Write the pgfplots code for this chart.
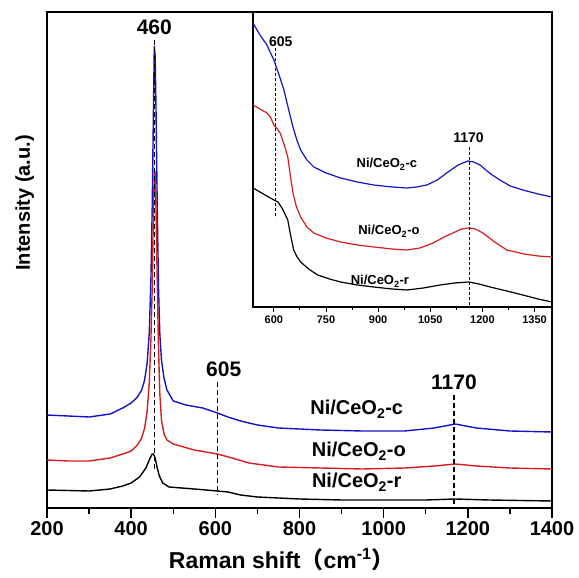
\documentclass[border=0pt]{standalone}
\usepackage{fontspec}
\setmainfont{Liberation Sans}
\newfontfamily\cjk{Noto Sans CJK SC}
\usepackage{pgfplots}
\pgfplotsset{compat=1.18}
\definecolor{cblue}{RGB}{20,20,200}
\definecolor{cred}{RGB}{215,30,30}
\begin{document}
\begin{tikzpicture}
\pgfplotsset{
  every axis/.append style={
    /pgf/number format/assume math mode=true,
    /pgf/number format/1000 sep={},
  },
  mydash/.style={dash pattern=on 5pt off 3pt},
}
\begin{axis}[
  name=main,
  at={(0pt,0pt)}, anchor=south west,
  scale only axis, width=505pt, height=496pt,
  xmin=200, xmax=1400, ymin=0, ymax=496,
  xtick={200,400,...,1400}, minor x tick num=1,
  ytick=\empty,
  xtick pos=bottom, tick align=outside,
  major tick length=10pt, minor tick length=6pt,
  every tick/.style={line width=1.4pt, black},
  axis line style={line width=1.6pt},
  ticklabel style={font=\fontsize{20}{20}\selectfont\bfseries},
  xlabel={Raman shift{\cjk （}cm\textsuperscript{-1}{\cjk ）}},
  xlabel style={font=\fontsize{23}{23}\selectfont\bfseries, at={(axis description cs:0.465,-0.105)}, anchor=center},
  ylabel={Intensity (a.u.)},
  ylabel style={font=\fontsize{20}{20}\selectfont\bfseries, at={(axis description cs:-0.044,0.615)}, anchor=center},
  clip=false,
]
\addplot[cblue, line width=1.4pt] coordinates {
(200,93)(250,92)(300,91)(350,94)(380,100)(400,105)(415,111)(425,118)(432,128)(438,145)(443,175)(447,230)(450,300)(453,400)(455,462)(457,452)(459,400)(462,300)(465,220)(468,175)(472,148)(478,130)(485,118)(500,107)(530,103)(570,100)(605,95)(630,91)(660,87)(700,83)(750,80)(850,78)(950,77)(1050,77)(1120,80)(1170,84)(1220,80)(1300,77)(1400,76)};
\addplot[cred, line width=1.4pt] coordinates {
(200,48)(250,47)(300,47)(350,50)(380,54)(400,57)(415,63)(425,70)(432,80)(438,97)(443,125)(447,170)(450,220)(453,300)(455,338)(457,335)(459,300)(462,225)(465,160)(468,115)(472,88)(478,74)(485,68)(500,64)(550,58)(605,54)(640,50)(680,45)(750,41)(850,40)(950,39)(1050,40)(1120,42)(1170,44)(1220,42)(1300,40)(1400,39)};
\addplot[black, line width=1.4pt] coordinates {
(200,18)(300,17)(350,19)(380,22)(400,25)(420,31)(435,40)(445,50)(450,54)(453,54)(457,50)(462,40)(467,32)(475,25)(490,21)(550,19)(605,17)(630,16)(660,13)(700,11)(800,9)(900,8)(1000,8)(1100,8)(1170,9)(1250,8)(1400,7)};
\addplot[black, mydash, line width=1.2pt] coordinates {(455,468)(455,38)};
\addplot[black, mydash, line width=1.2pt] coordinates {(605,126)(605,13)};
\addplot[black, mydash, line width=1.2pt] coordinates {(1167,113)(1167,0)};
\node[font=\fontsize{21}{21}\selectfont\bfseries, anchor=base] at (axis cs:455,473) {460};
\node[font=\fontsize{21}{21}\selectfont\bfseries, anchor=base] at (axis cs:620,131) {605};
\node[font=\fontsize{21}{21}\selectfont\bfseries, anchor=base] at (axis cs:1167,118) {1170};
\node[font=\fontsize{20}{20}\selectfont\bfseries, anchor=base] at (axis cs:936,93) {Ni/CeO\textsubscript{2}-c};
\node[font=\fontsize{20}{20}\selectfont\bfseries, anchor=base] at (axis cs:941,51) {Ni/CeO\textsubscript{2}-o};
\node[font=\fontsize{20}{20}\selectfont\bfseries, anchor=base] at (axis cs:936,20) {Ni/CeO\textsubscript{2}-r};
\end{axis}
\begin{axis}[
  at={(206pt,201pt)}, anchor=south west,
  scale only axis, width=299pt, height=295pt,
  xmin=540, xmax=1400, ymin=0, ymax=295,
  xtick={600,750,...,1350}, minor x tick num=1,
  ytick=\empty,
  xtick pos=bottom, tick align=outside,
  major tick length=5pt, minor tick length=3pt,
  every tick/.style={line width=1pt, black},
  axis line style={line width=1.4pt},
  axis background/.style={fill=white},
  ticklabel style={font=\fontsize{11}{11}\selectfont\bfseries},
  clip=false,
]
\addplot[cblue, line width=1.2pt] coordinates {
(540,284)(560,272)(580,262)(600,247)(615,232)(629,217)(642,198)(655,180)(667,166)(677,157)(695,147)(715,140)(750,134)(792,129)(840,125)(887,122)(940,120)(983,119)(1010,120)(1040,122)(1070,127)(1097,134)(1130,142)(1158,146)(1175,145)(1193,142)(1220,134)(1250,127)(1280,121)(1316,117)(1360,113)(1400,110)};
\addplot[cred, line width=1.2pt] coordinates {
(540,202)(560,198)(580,194)(590,190)(600,182)(610,178)(618,174)(630,162)(640,150)(648,130)(655,114)(665,100)(677,90)(695,80)(715,74)(750,69)(792,65)(840,62)(887,60)(940,58)(983,57)(1020,59)(1058,64)(1090,70)(1115,74)(1140,78)(1161,79)(1180,78)(1201,74)(1235,65)(1270,57)(1320,53)(1360,51)(1400,50)};
\addplot[black, line width=1.2pt] coordinates {
(540,119)(560,115)(575,112)(590,109)(600,107)(612,105)(625,98)(640,87)(648,72)(657,57)(667,50)(677,45)(700,38)(726,32)(760,28)(792,25)(840,22)(887,20)(940,18)(983,17)(1030,19)(1078,22)(1120,24)(1161,25)(1190,23)(1222,20)(1270,16)(1316,12)(1360,8)(1400,5)};
\addplot[black, dash pattern=on 3pt off 2pt, line width=0.8pt] coordinates {(605,259)(605,89)};
\addplot[black, dash pattern=on 3pt off 2pt, line width=0.8pt] coordinates {(1162,160)(1162,0)};
\node[font=\fontsize{14}{14}\selectfont\bfseries] at (axis cs:620,265) {605};
\node[font=\fontsize{14}{14}\selectfont\bfseries] at (axis cs:1160,169) {1170};
\node[font=\fontsize{13}{13}\selectfont\bfseries, anchor=base] at (axis cs:925,139) {Ni/CeO\textsubscript{2}-c};
\node[font=\fontsize{13}{13}\selectfont\bfseries, anchor=base] at (axis cs:931,72) {Ni/CeO\textsubscript{2}-o};
\node[font=\fontsize{13}{13}\selectfont\bfseries, anchor=base] at (axis cs:905,22) {Ni/CeO\textsubscript{2}-r};
\end{axis}
\pgfresetboundingbox
\path[use as bounding box] (-47pt,-70pt) rectangle (532pt,508pt);
\end{tikzpicture}
\end{document}
